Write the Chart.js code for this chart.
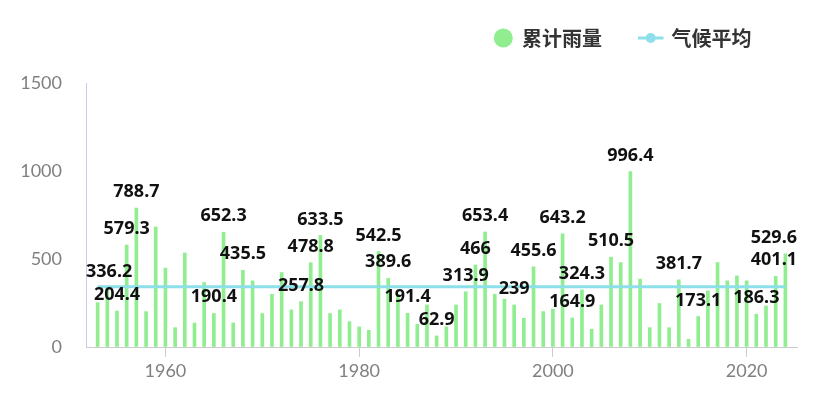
<!DOCTYPE html>
<html>
<head>
<meta charset="utf-8">
<script src="https://cdn.jsdelivr.net/npm/chart.js@4.4.1/dist/chart.umd.min.js"></script>
<style>
html,body{margin:0;padding:0;background:#fff;overflow:hidden}
#wrap{width:815px;height:408px;position:relative}
canvas{display:block}
</style>
</head>
<body>
<div id="wrap"><canvas id="c" width="815" height="408"></canvas></div>
<script>
// ---- data ----
const years = [1953,1954,1955,1956,1957,1958,1959,1960,1961,1962,1963,1964,1965,1966,1967,1968,1969,1970,
  1971,1972,1973,1974,1975,1976,1977,1978,1979,1980,1981,1982,1983,1984,1985,1986,1987,1988,1989,1990,
  1991,1992,1993,1994,1995,1996,1997,1998,1999,2000,2001,2002,2003,2004,2005,2006,2007,2008,2009,2010,
  2011,2012,2013,2014,2015,2016,2017,2018,2019,2020,2021,2022,2023,2024];
const rainfall = [252,336.2,204.4,579.3,788.7,201,682,448,110,534,136,366,190.4,652.3,137,435.5,376,190,
  300,423,211,257.8,478.8,633.5,190,211,144,114,95,542.5,389.6,300,191.4,129,239,62.9,114,239,
  313.9,466,653.4,300,272,239,163,455.6,201,215,643.2,164.9,324.3,101,239,510.5,480,996.4,386,110,
  247,110,381.7,44,173.1,319,480,376,404,376,186.3,233,401.1,529.6];
const climateAverage = [343];
const labeledYears = [1954,1955,1956,1957,1965,1966,1968,1974,1975,1976,1982,1983,1985,1988,1991,1992,
  1993,1996,1998,2001,2002,2003,2006,2008,2013,2015,2021,2023,2024];
const yTicks = [0,500,1000,1500];
const xTicks = [1960,1980,2000,2020];
const seriesNames = ['累计雨量','气候平均'];

const BAR_COLOR = '#90ee90';
const LINE_COLOR = '#8ddfea';

const barLabels = {
  id:'barLabels',
  afterDatasetsDraw(chart){
    const ctx = chart.ctx, meta = chart.getDatasetMeta(0), area = chart.chartArea;
    ctx.save();
    ctx.font = 'bold 18px "Noto Sans"';
    ctx.fillStyle = '#111';
    ctx.textAlign = 'center';
    ctx.textBaseline = 'alphabetic';
    years.forEach((yr,i)=>{
      if(!labeledYears.includes(yr)) return;
      const el = meta.data[i];
      const txt = String(rainfall[i]);
      const w = ctx.measureText(txt).width;
      const x = Math.min(Math.max(el.x, area.left + w/2), area.right - w/2);
      ctx.fillText(txt, x, el.y - 11);
    });
    ctx.restore();
  }
};

const customLegend = {
  id:'customLegend',
  afterDraw(chart){
    const ctx = chart.ctx;
    const cy = 38;
    ctx.save();
    ctx.fillStyle = BAR_COLOR;
    ctx.beginPath(); ctx.arc(503.3, cy, 9.5, 0, Math.PI*2); ctx.fill();
    ctx.font = 'bold 20px "Noto Sans CJK SC"';
    ctx.fillStyle = '#333';
    ctx.textAlign = 'left';
    ctx.textBaseline = 'middle';
    ctx.fillText(seriesNames[0], 522, cy);
    ctx.strokeStyle = LINE_COLOR; ctx.lineWidth = 3;
    ctx.beginPath(); ctx.moveTo(638, cy); ctx.lineTo(663.5, cy); ctx.stroke();
    ctx.fillStyle = LINE_COLOR;
    ctx.beginPath(); ctx.arc(650.7, cy, 5, 0, Math.PI*2); ctx.fill();
    ctx.fillStyle = '#333';
    ctx.fillText(seriesNames[1], 671.5, cy);
    ctx.restore();
  }
};

const tickFont = {family:'Lato', size:18};
new Chart(document.getElementById('c'), {
  type:'bar',
  data:{
    datasets:[
      {
        type:'bar', label:seriesNames[0],
        data: years.map((y,i)=>({x:y, y:rainfall[i]})),
        backgroundColor: BAR_COLOR, barThickness:3, order:1
      },
      {
        type:'line', label:seriesNames[1],
        data: [{x:years[0], y:climateAverage[0]}, {x:years[years.length-1], y:climateAverage[0]}],
        borderColor: LINE_COLOR, borderWidth:3, pointRadius:0, fill:false, order:0
      }
    ]
  },
  options:{
    responsive:false,
    animation:false,
    layout:{padding:{top:83, right:18, left:0, bottom:0}},
    plugins:{legend:{display:false}, tooltip:{enabled:false}},
    scales:{
      x:{
        type:'linear', min:1951.8, max:2025.2, offset:false,
        afterBuildTicks: s => { s.ticks = xTicks.map(v=>({value:v})); },
        afterFit: s => { s.height = 61; },
        grid:{drawOnChartArea:false, drawTicks:true, tickLength:10, color:'#cccccc', offset:false},
        border:{color:'#cccccc'},
        ticks:{font:tickFont, color:'#808080', padding:3, maxRotation:0, autoSkip:false, callback:v=>String(v)}
      },
      y:{
        min:0, max:1500,
        afterBuildTicks: s => { s.ticks = yTicks.map(v=>({value:v})); },
        afterFit: s => { s.width = 86; },
        grid:{drawOnChartArea:false, drawTicks:false},
        border:{color:'#c8cce6'},
        ticks:{font:tickFont, color:'#808080', padding:24, callback:v=>String(v)}
      }
    }
  },
  plugins:[barLabels, customLegend]
});
</script>
</body>
</html>
